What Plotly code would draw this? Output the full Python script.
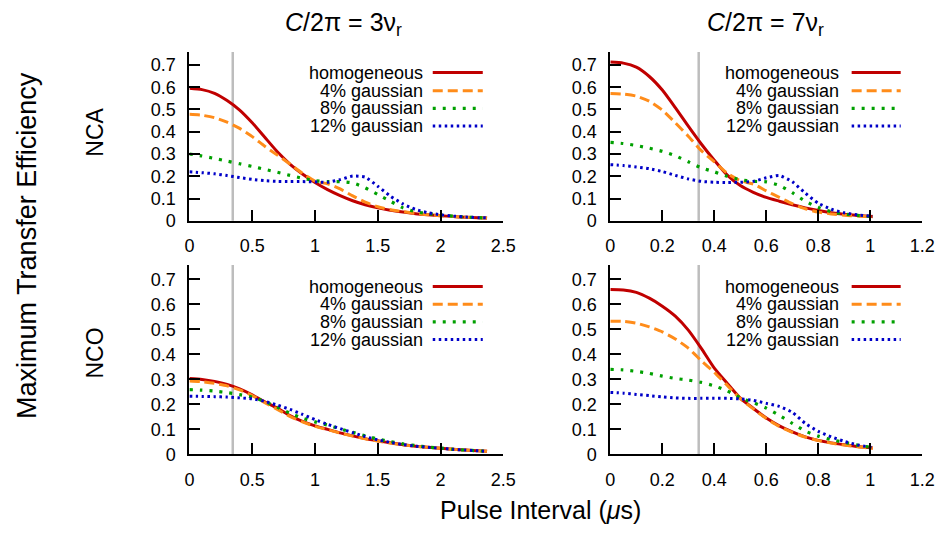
import plotly.graph_objects as go

# ---------------- data ----------------
x_left = [0.0, 0.1, 0.2, 0.3, 0.4, 0.5, 0.6, 0.7, 0.8, 0.9, 1.0, 1.1, 1.2,
          1.3, 1.4, 1.5, 1.6, 1.7, 1.8, 1.9, 2.0, 2.1, 2.2, 2.3, 2.37]
x_right = [0.0, 0.05, 0.1, 0.15, 0.2, 0.25, 0.3, 0.35, 0.4, 0.45, 0.5, 0.55,
           0.6, 0.65, 0.7, 0.75, 0.8, 0.85, 0.9, 0.95, 1.01]

series_names = ["homogeneous", "4% gaussian", "8% gaussian", "12% gaussian"]

# NCA, C/2pi = 3 nu_r
nca3_homog = [0.595, 0.589, 0.572, 0.540, 0.497, 0.440, 0.375, 0.310, 0.255, 0.210, 0.172, 0.140, 0.113,
              0.090, 0.072, 0.058, 0.047, 0.039, 0.032, 0.027, 0.023, 0.019, 0.016, 0.014, 0.012]
nca3_g4 = [0.478, 0.474, 0.463, 0.443, 0.415, 0.378, 0.335, 0.295, 0.255, 0.213, 0.178, 0.166, 0.143,
           0.112, 0.084, 0.063, 0.050, 0.041, 0.033, 0.027, 0.023, 0.019, 0.016, 0.014, 0.013]
nca3_g8 = [0.300, 0.291, 0.280, 0.268, 0.256, 0.244, 0.231, 0.218, 0.204, 0.191, 0.180, 0.176, 0.176,
           0.170, 0.148, 0.118, 0.088, 0.058, 0.041, 0.032, 0.026, 0.021, 0.017, 0.014, 0.013]
nca3_g12 = [0.220, 0.216, 0.211, 0.203, 0.194, 0.186, 0.180, 0.177, 0.176, 0.176, 0.175, 0.173, 0.185,
            0.201, 0.196, 0.155, 0.111, 0.076, 0.051, 0.036, 0.027, 0.021, 0.017, 0.014, 0.013]

# NCA, C/2pi = 7 nu_r
nca7_homog = [0.713, 0.708, 0.690, 0.648, 0.587, 0.508, 0.425, 0.345, 0.272, 0.205, 0.158, 0.128,
              0.105, 0.088, 0.072, 0.058, 0.046, 0.036, 0.029, 0.024, 0.019]
nca7_g4 = [0.572, 0.569, 0.560, 0.537, 0.497, 0.440, 0.380, 0.315, 0.265, 0.213, 0.180, 0.165,
           0.134, 0.105, 0.077, 0.054, 0.039, 0.031, 0.025, 0.021, 0.018]
nca7_g8 = [0.352, 0.347, 0.338, 0.326, 0.312, 0.292, 0.265, 0.238, 0.220, 0.200, 0.185, 0.177,
           0.175, 0.159, 0.126, 0.088, 0.060, 0.041, 0.030, 0.024, 0.019]
nca7_g12 = [0.252, 0.248, 0.242, 0.234, 0.221, 0.204, 0.188, 0.177, 0.173, 0.172, 0.173, 0.177,
            0.193, 0.203, 0.175, 0.124, 0.079, 0.052, 0.036, 0.027, 0.020]

# NCO, C/2pi = 3 nu_r
nco3_homog = [0.304, 0.300, 0.292, 0.280, 0.262, 0.238, 0.210, 0.185, 0.155, 0.132, 0.114, 0.100, 0.086,
              0.074, 0.063, 0.054, 0.046, 0.038, 0.032, 0.028, 0.024, 0.020, 0.017, 0.014, 0.012]
nco3_g4 = [0.294, 0.291, 0.284, 0.274, 0.258, 0.235, 0.207, 0.180, 0.152, 0.130, 0.112, 0.099, 0.085,
           0.073, 0.062, 0.053, 0.045, 0.038, 0.032, 0.028, 0.024, 0.020, 0.017, 0.014, 0.012]
nco3_g8 = [0.259, 0.257, 0.253, 0.247, 0.239, 0.229, 0.211, 0.189, 0.165, 0.145, 0.130, 0.117, 0.102,
           0.088, 0.074, 0.061, 0.051, 0.042, 0.035, 0.029, 0.025, 0.020, 0.017, 0.014, 0.012]
nco3_g12 = [0.233, 0.232, 0.231, 0.229, 0.226, 0.222, 0.212, 0.197, 0.180, 0.160, 0.139, 0.120, 0.103,
            0.087, 0.071, 0.058, 0.048, 0.039, 0.033, 0.028, 0.024, 0.020, 0.017, 0.014, 0.012]

# NCO, C/2pi = 7 nu_r
nco7_homog = [0.660, 0.658, 0.648, 0.625, 0.593, 0.553, 0.497, 0.424, 0.345, 0.284, 0.225, 0.184,
              0.145, 0.114, 0.090, 0.070, 0.056, 0.046, 0.038, 0.031, 0.025]
nco7_g4 = [0.533, 0.532, 0.525, 0.510, 0.490, 0.462, 0.425, 0.375, 0.328, 0.276, 0.223, 0.182,
           0.143, 0.112, 0.088, 0.069, 0.055, 0.045, 0.037, 0.030, 0.024]
nco7_g8 = [0.340, 0.338, 0.332, 0.324, 0.313, 0.304, 0.297, 0.288, 0.274, 0.254, 0.226, 0.207,
           0.185, 0.156, 0.124, 0.093, 0.073, 0.059, 0.048, 0.037, 0.027]
nco7_g12 = [0.248, 0.245, 0.240, 0.235, 0.230, 0.226, 0.224, 0.224, 0.224, 0.224, 0.222, 0.216,
            0.204, 0.192, 0.168, 0.124, 0.092, 0.070, 0.052, 0.038, 0.027]

ref_interval = [0.345, 0.34]     # grey vertical marker (left column, right column)

col_titles = ["<i>C</i>/2π = 3ν<sub>r</sub>", "<i>C</i>/2π = 7ν<sub>r</sub>"]
row_titles = ["NCA", "NCO"]
x_title = "Pulse Interval (<i>μ</i>s)"
y_title = "Maximum Transfer Efficiency"

# ---------------- styling ----------------
W, H = 950, 535
FONT = "Liberation Sans, Arial, Helvetica, sans-serif"
colors = ["#c00000", "#ff8c1a", "#00a000", "#0000c8"]
dashes = ["solid", "10px,5px", "3px,7px", "2.5px,3.5px"]
widths = [3, 3, 3.2, 3]

def px(xp):
    return xp / W

def py(yp):
    return 1 - yp / H

x_dom = [[px(188), px(508)], [px(617), px(935)]]
y_dom = [[py(225), py(53)], [py(463), py(270)]]
x_rng = [[0, 2.5], [0, 1.2]]
x_dt = [0.5, 0.2]

panels = [
    (0, 0, x_left, [nca3_homog, nca3_g4, nca3_g8, nca3_g12]),
    (0, 1, x_right, [nca7_homog, nca7_g4, nca7_g8, nca7_g12]),
    (1, 0, x_left, [nco3_homog, nco3_g4, nco3_g8, nco3_g12]),
    (1, 1, x_right, [nco7_homog, nco7_g4, nco7_g8, nco7_g12]),
]

fig = go.Figure()
layout = dict(
    width=W, height=H,
    margin=dict(l=0, r=0, t=0, b=0),
    paper_bgcolor="white", plot_bgcolor="white",
    showlegend=False,
    font=dict(family=FONT, size=18, color="black"),
)
shapes = []
annotations = []

# legend geometry (pixels)
leg_text_right = [428, 852]
leg_line = [[436, 487], [863, 913]]
leg_rows = [[74, 92.5, 110.5, 128.5], [292, 310, 328, 346]]

for i, (r, c, xs, ys_list) in enumerate(panels):
    k = i + 1
    xa = "x" if k == 1 else f"x{k}"
    ya = "y" if k == 1 else f"y{k}"
    xkey = "xaxis" if k == 1 else f"xaxis{k}"
    ykey = "yaxis" if k == 1 else f"yaxis{k}"

    # grey reference line
    shapes.append(dict(type="line", xref=xa, yref=f"{ya} domain",
                       x0=ref_interval[c], x1=ref_interval[c], y0=0, y1=1,
                       line=dict(color="#bdbdbd", width=2.5), layer="below"))

    for s, ys in enumerate(ys_list):
        fig.add_trace(go.Scatter(
            x=xs, y=ys, mode="lines", name=series_names[s],
            xaxis=xa, yaxis=ya,
            line=dict(color=colors[s], width=widths[s], dash=dashes[s],
                      shape="spline", smoothing=0.6),
            hoverinfo="skip"))

    layout[xkey] = dict(
        domain=x_dom[c], anchor=ya, range=x_rng[c], dtick=x_dt[c], tick0=0,
        showline=True, linecolor="black", linewidth=2,
        ticks="inside", ticklen=11, tickwidth=2, tickcolor="black",
        showgrid=False, zeroline=False, ticklabelstandoff=8,
        tickfont=dict(family=FONT, size=18, color="black"))
    layout[ykey] = dict(
        domain=y_dom[r], anchor=xa, range=[0, 0.758], dtick=0.1, tick0=0,
        showline=True, linecolor="black", linewidth=2,
        ticks="inside", ticklen=11, tickwidth=2, tickcolor="black",
        showgrid=False, zeroline=False, ticklabelstandoff=8,
        tickfont=dict(family=FONT, size=18, color="black"))

    # manual legend: right-aligned text + line sample
    for s in range(4):
        yy = py(leg_rows[r][s])
        annotations.append(dict(
            text=series_names[s], xref="paper", yref="paper",
            x=px(leg_text_right[c]), y=yy, xanchor="right", yanchor="middle",
            showarrow=False, font=dict(family=FONT, size=18, color="black")))
        shapes.append(dict(
            type="line", xref="paper", yref="paper",
            x0=px(leg_line[c][0]), x1=px(leg_line[c][1]), y0=yy, y1=yy,
            line=dict(color=colors[s], width=widths[s], dash=dashes[s])))

# column titles
for c, cx in enumerate([345, 775]):
    annotations.append(dict(text=col_titles[c], xref="paper", yref="paper",
                            x=px(cx), y=py(24), xanchor="center", yanchor="middle",
                            showarrow=False, font=dict(family=FONT, size=25, color="black")))
# row titles
for r, cy in enumerate([135, 360]):
    annotations.append(dict(text=row_titles[r], xref="paper", yref="paper",
                            x=px(92), y=py(cy), xanchor="center", yanchor="middle",
                            textangle=-90, showarrow=False,
                            font=dict(family=FONT, size=23, color="black")))
# axis titles
annotations.append(dict(text=y_title, xref="paper", yref="paper",
                        x=px(23), y=py(250), xanchor="center", yanchor="middle",
                        textangle=-90, showarrow=False,
                        font=dict(family=FONT, size=27, color="black")))
annotations.append(dict(text=x_title, xref="paper", yref="paper",
                        x=px(546), y=py(520), xanchor="center", yanchor="middle",
                        showarrow=False, font=dict(family=FONT, size=25, color="black")))

layout["shapes"] = shapes
layout["annotations"] = annotations
fig.update_layout(**layout)
fig.write_html(
    "out.html",
    config={"displayModeBar": False},
    post_script="document.body.style.margin='0';document.body.style.padding='0';"
                "document.body.style.overflow='hidden';",
)
